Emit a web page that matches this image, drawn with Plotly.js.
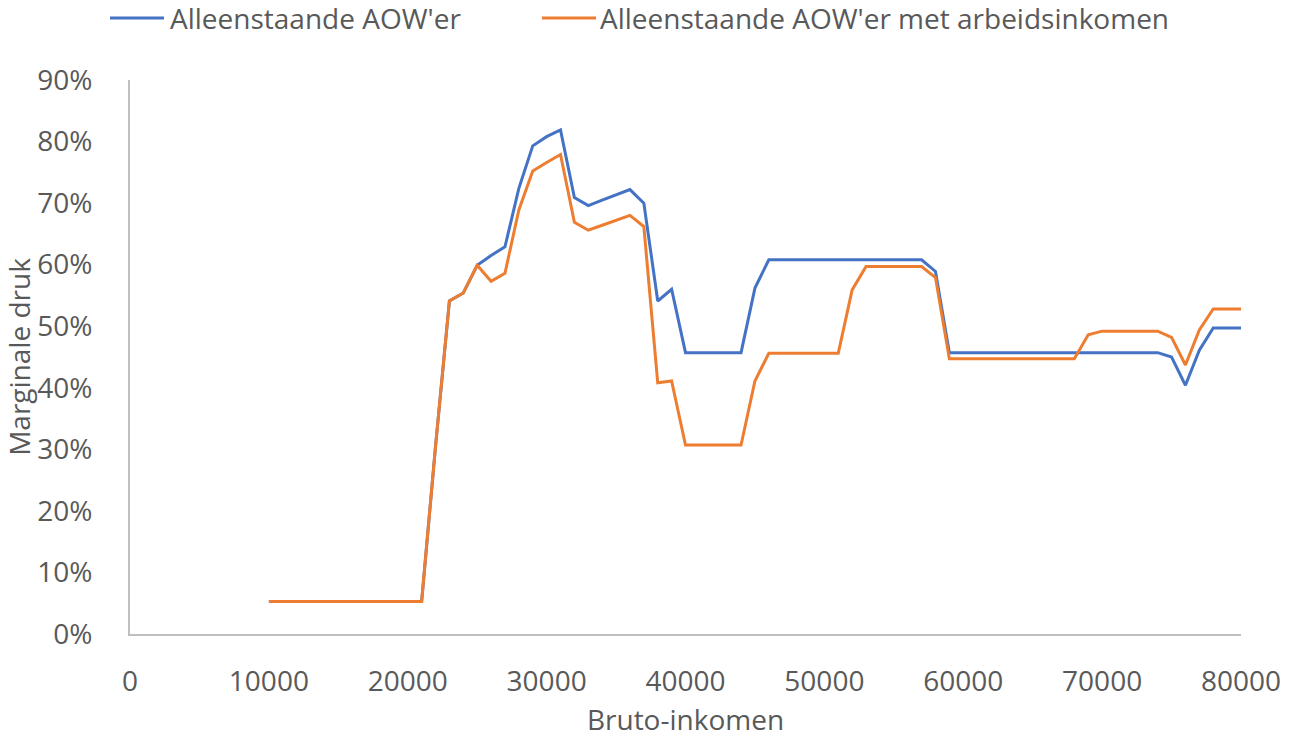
<!DOCTYPE html>
<html>
<head>
<meta charset="utf-8">
<script src="https://cdn.plot.ly/plotly-3.0.1.min.js"></script>
<style>html,body{margin:0;padding:0;background:#fff;}#chart{width:1299px;height:749px;}</style>
</head>
<body>
<div id="chart"></div>
<script>
var seriesNames = ["Alleenstaande AOW'er", "Alleenstaande AOW'er met arbeidsinkomen"];
var inkomen = [10000,11000,12000,13000,14000,15000,16000,17000,18000,19000,20000,
  21000,22000,23000,24000,25000,26000,27000,28000,29000,30000,
  31000,32000,33000,34000,35000,36000,37000,38000,39000,40000,
  41000,42000,43000,44000,45000,46000,47000,48000,49000,50000,
  51000,52000,53000,54000,55000,56000,57000,58000,59000,60000,
  61000,62000,63000,64000,65000,66000,67000,68000,69000,70000,
  71000,72000,73000,74000,75000,76000,77000,78000,79000,80000];
var drukAOW = [5.3,5.3,5.3,5.3,5.3,5.3,5.3,5.3,5.3,5.3,5.3,
  5.3,30.5,54.1,55.4,59.9,61.5,62.9,72.4,79.3,80.8,
  81.9,70.9,69.6,70.5,71.4,72.2,70.0,54.1,56.0,45.7,
  45.7,45.7,45.7,45.7,56.2,60.8,60.8,60.8,60.8,60.8,
  60.8,60.8,60.8,60.8,60.8,60.8,60.8,58.9,45.7,45.7,
  45.7,45.7,45.7,45.7,45.7,45.7,45.7,45.7,45.7,45.7,
  45.7,45.7,45.7,45.7,45.0,40.4,46.1,49.7,49.7,49.7];
var drukArbeid = [5.3,5.3,5.3,5.3,5.3,5.3,5.3,5.3,5.3,5.3,5.3,
  5.3,30.5,54.1,55.4,59.9,57.3,58.6,68.9,75.2,76.6,
  77.9,66.9,65.6,66.4,67.2,68.0,66.2,40.8,41.1,30.7,
  30.7,30.7,30.7,30.7,41.1,45.6,45.6,45.6,45.6,45.6,
  45.6,55.9,59.7,59.7,59.7,59.7,59.7,57.9,44.7,44.7,
  44.7,44.7,44.7,44.7,44.7,44.7,44.7,44.7,48.6,49.2,
  49.2,49.2,49.2,49.2,48.2,43.7,49.4,52.8,52.8,52.8];
var xTicks = [0,10000,20000,30000,40000,50000,60000,70000,80000];
var yTicks = [0,10,20,30,40,50,60,70,80,90];
var colors = ["#4472C4", "#ED7D31"];

var textColor = "#595959";
var fontFam = "'Open Sans', 'Noto Sans', sans-serif";

var traces = [
  {x: inkomen, y: drukAOW, type: "scatter", mode: "lines", name: seriesNames[0],
   line: {color: colors[0], width: 3}, showlegend: false},
  {x: inkomen, y: drukArbeid, type: "scatter", mode: "lines", name: seriesNames[1],
   line: {color: colors[1], width: 3}, showlegend: false}
];

// Legend drawn in paper coordinates (plot area: l=130, w=1111, t=80, h=554)
function px(p){ return (p - 130) / 1111; }
function py(p){ return (634 - p) / 554; }
var legY = py(18);
var shapes = [
  {type: "line", xref: "paper", yref: "paper", x0: px(110), x1: px(164), y0: legY, y1: legY,
   line: {color: colors[0], width: 3}},
  {type: "line", xref: "paper", yref: "paper", x0: px(542), x1: px(596), y0: legY, y1: legY,
   line: {color: colors[1], width: 3}}
];
var annotations = [
  {xref: "paper", yref: "paper", x: px(168), y: legY, xanchor: "left", yanchor: "middle",
   text: seriesNames[0], showarrow: false, font: {family: fontFam, size: 28, color: textColor}},
  {xref: "paper", yref: "paper", x: px(598), y: legY, xanchor: "left", yanchor: "middle",
   text: seriesNames[1], showarrow: false, font: {family: fontFam, size: 28, color: textColor}}
];

var layout = {
  width: 1299, height: 749,
  margin: {l: 130, r: 58, t: 80, b: 115},
  paper_bgcolor: "#ffffff", plot_bgcolor: "#ffffff",
  font: {family: fontFam, size: 28, color: textColor},
  showlegend: false,
  xaxis: {
    range: [0, 80000], tickvals: xTicks, ticktext: xTicks.map(String),
    showgrid: false, zeroline: false, showline: true, linecolor: "#BFBFBF", linewidth: 2,
    ticks: "", ticklabelstandoff: 21,
    tickfont: {family: fontFam, size: 28, color: textColor},
    title: {text: "Bruto-inkomen", font: {family: fontFam, size: 28, color: textColor}, standoff: 13},
    automargin: false
  },
  yaxis: {
    range: [0, 90], tickvals: yTicks, ticktext: yTicks.map(function(v){return v + "%";}),
    showgrid: false, zeroline: false, showline: true, linecolor: "#BFBFBF", linewidth: 2,
    ticks: "", ticklabelstandoff: 30,
    tickfont: {family: fontFam, size: 28, color: textColor},
    title: {text: "Marginale druk", font: {family: fontFam, size: 28, color: textColor}, standoff: 13},
    automargin: false
  },
  shapes: shapes,
  annotations: annotations
};

Plotly.newPlot("chart", traces, layout, {displayModeBar: false, staticPlot: true});
</script>
</body>
</html>
